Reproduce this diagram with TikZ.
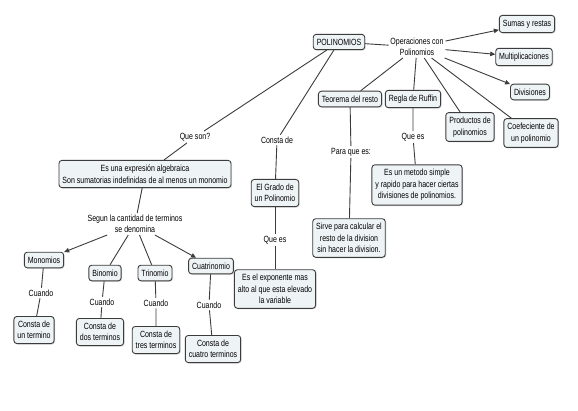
\documentclass[tikz,border=0pt]{standalone}
\usepackage{fontspec}
\setmainfont{Liberation Sans}[FakeStretch=0.78]
\usetikzlibrary{arrows.meta,shadows}

\definecolor{boxfill}{HTML}{EEF4F6}
\definecolor{linegray}{HTML}{3C3C3C}

\begin{document}
\begin{tikzpicture}[
    x=1pt, y=-1pt,
    >={Triangle[length=5pt,width=4.5pt]},
    line width=0.9pt,
    every node/.style={font=\fontsize{9}{11.5}\selectfont, align=center},
    concept/.style={draw=linegray, fill=boxfill, rounded corners=3pt,
      inner xsep=3.5pt, inner ysep=4.5pt,
      drop shadow={shadow xshift=1pt, shadow yshift=-1pt, opacity=0.25}},
    link/.style={inner sep=1.5pt},
    con/.style={draw=linegray},
  ]

  \useasboundingbox[fill=white] (0,0) rectangle (578,410);

  % ---- top: polinomios and operations --------------------------------
  \node[concept] (poli)    at (339,42)  {POLINOMIOS};
  \node[link]    (oper)    at (417,47)  {Operaciones con\\Polinomios};
  \node[concept] (sumas)   at (527,24)  {Sumas y restas};
  \node[concept] (multi)   at (524,57)  {Multiplicaciones};
  \node[concept] (divis)   at (530,92)  {Divisiones};
  \node[concept] (teorema) at (350,99)  {Teorema del resto};
  \node[concept] (ruffin)  at (413,99)  {Regla de Ruffin};
  \node[concept] (product) at (470,127) {Productos de\\polinomios};
  \node[concept] (coef)    at (531,133) {Coefeciente de\\un polinomio};

  % ---- linking phrases -----------------------------------------------
  \node[link] (queson)   at (195,137) {Que son?};
  \node[link] (constade) at (277,140) {Consta de};
  \node[link] (paraque)  at (351,152) {Para que es:};
  \node[link] (queesR)   at (413,137) {Que es};
  \node[link] (queesG)   at (275,240) {Que es};
  \node[link] (segun)    at (135,224) {Segun la cantidad de terminos\\se denomina};

  % ---- middle concepts -----------------------------------------------
  \node[concept] (expres) at (145,174)
    {Es una expresión algebraica\\Son sumatorias indefinidas de al menos un monomio};
  \node[concept] (grado)  at (275,193) {El Grado de\\un Polinomio};
  \node[concept] (metodo) at (417,185)
    {Es un metodo simple\\y rapido para hacer ciertas\\divisiones de polinomios.};
  \node[concept] (sirve)  at (349,238)
    {Sirve para calcular el\\resto de la division\\sin hacer la division.};
  \node[concept] (expon)  at (275,289)
    {Es el exponente mas\\alto al que esta elevado\\la variable};

  % ---- kinds by number of terms --------------------------------------
  \node[concept] (mono)  at (44,260)  {Monomios};
  \node[concept] (bino)  at (105,273) {Binomio};
  \node[concept] (trino) at (155,273) {Trinomio};
  \node[concept] (cuatr) at (211,266) {Cuatrinomio};

  \node[link] (cuandoM) at (41,293)  {Cuando};
  \node[link] (cuandoB) at (102,302) {Cuando};
  \node[link] (cuandoT) at (156,303) {Cuando};
  \node[link] (cuandoC) at (209,305) {Cuando};

  \node[concept] (unterm)   at (34,330)  {Consta de\\un termino};
  \node[concept] (dosterm)  at (100,332) {Consta de\\dos terminos};
  \node[concept] (tresterm) at (156,340) {Consta de\\tres terminos};
  \node[concept] (cuatterm) at (213,349) {Consta de\\cuatro terminos};

  % ---- connectors ----------------------------------------------------
  \draw[con] (poli) -- (oper);
  \foreach \t in {sumas,multi,divis}
    \draw[con,->] (oper) -- (\t);
  \foreach \t in {teorema,ruffin,product,coef}
    \draw[con] (oper) -- (\t);

  \draw[con] (poli) -- (queson) -- (expres);
  \draw[con] (poli) -- (constade) -- (grado);
  \draw[con] (grado) -- (queesG) -- (expon);
  \draw[con] (teorema) -- (paraque) -- (sirve);
  \draw[con] (ruffin) -- (queesR) -- (metodo);

  \draw[con] (expres) -- (segun);
  \draw[con,->] (segun) -- (mono);
  \draw[con] (segun) -- (bino);
  \draw[con] (segun) -- (trino);
  \draw[con,->] (segun) -- (cuatr);

  \draw[con] (mono)  -- (cuandoM) -- (unterm);
  \draw[con] (bino)  -- (cuandoB) -- (dosterm);
  \draw[con] (trino) -- (cuandoT) -- (tresterm);
  \draw[con] (cuatr) -- (cuandoC) -- (cuatterm);

\end{tikzpicture}
\end{document}
